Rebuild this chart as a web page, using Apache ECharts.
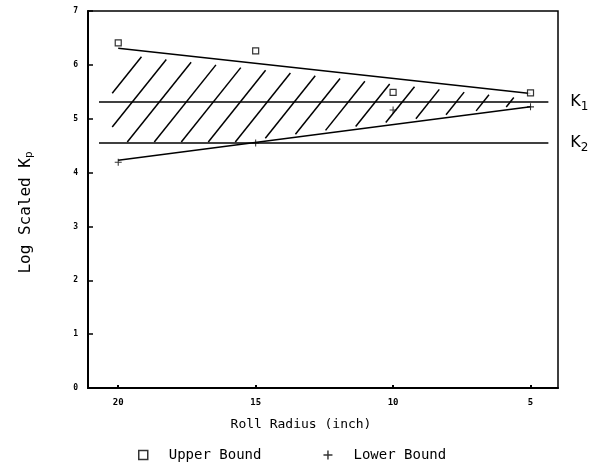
<!DOCTYPE html>
<html>
<head>
<meta charset="utf-8">
<script src="https://cdn.jsdelivr.net/npm/echarts@6/dist/echarts.min.js"></script>
<style>
  html, body { margin: 0; padding: 0; background: #fff; }
  #chart { width: 595px; height: 462px; }
</style>
</head>
<body>
<div id="chart"></div>
<script>
// roll radius (inch) and measured bounds of log scaled Kp
var radius = [20, 15, 10, 5];
var upperBound = [6.41, 6.26, 5.49, 5.48];
var lowerBound = [4.19, 4.55, 5.16, 5.22];

// fitted bound lines, drawn between the outer radii
var fitRadius = [20, 5];
var upperFit = [6.31, 5.47];
var lowerFit = [4.23, 5.22];

// reference levels K1, K2
var kRadius = [20.7, 4.35];
var k1 = 5.31;
var k2 = 4.55;

var xTicks = [5, 10, 15, 20];

var chart = echarts.init(document.getElementById("chart"));

function pairs(xs, ys) {
  return xs.map(function (x, i) { return [x, ys[i]]; });
}

// hatching between upper fit and the higher of lower fit / K2
function renderHatch(params, api) {
  var u0 = api.coord([fitRadius[0], upperFit[0]]);
  var u1 = api.coord([fitRadius[1], upperFit[1]]);
  var l0 = api.coord([fitRadius[0], lowerFit[0]]);
  var l1 = api.coord([fitRadius[1], lowerFit[1]]);
  var yK1 = api.coord([10, k1])[1];
  var yK2 = api.coord([10, k2])[1];
  var gap = 3;

  function lineY(a, b, x) { return a[1] + (x - a[0]) * (b[1] - a[1]) / (b[0] - a[0]); }
  // each constraint: g(p) >= 0, linear in p
  var cons = [
    function (p) { return p[1] - lineY(u0, u1, p[0]) - gap - 3; },
    function (p) { return lineY(l0, l1, p[0]) - p[1] - gap; },
    function (p) { return yK2 - p[1] - 1; },
    function (p) { return p[0] - u0[0] + 6; },
    function (p) { return u1[0] - p[0] - 4; }
  ];

  var dir = [0.8, -1];
  var children = [];
  for (var xk = u0[0] - 40; xk < u1[0] + 60; xk += 27) {
    var p0 = [xk, yK1];
    var tMin = -1000, tMax = 1000;
    for (var c = 0; c < cons.length; c++) {
      var g0 = cons[c](p0);
      var g1 = cons[c]([p0[0] + dir[0], p0[1] + dir[1]]) - g0;
      if (Math.abs(g1) < 1e-9) {
        if (g0 < 0) { tMin = 1; tMax = 0; }
      } else if (g1 > 0) {
        tMin = Math.max(tMin, -g0 / g1);
      } else {
        tMax = Math.min(tMax, -g0 / g1);
      }
    }
    if (tMax - tMin > 6) {
      children.push({
        type: "line",
        shape: {
          x1: p0[0] + dir[0] * tMin, y1: p0[1] + dir[1] * tMin,
          x2: p0[0] + dir[0] * tMax, y2: p0[1] + dir[1] * tMax
        },
        style: { stroke: "#000", lineWidth: 1.5 }
      });
    }
  }
  return { type: "group", children: children };
}

function kLabel(sub) {
  return {
    show: true,
    distance: 14,
    offset: [54, 0],
    formatter: "{k|K}{s|" + sub + "}",
    rich: {
      k: { fontSize: 16, color: "#000", fontFamily: "DejaVu Sans" },
      s: { fontSize: 12, color: "#000", fontFamily: "DejaVu Sans", verticalAlign: "bottom", padding: [10, 0, 0, 0] }
    }
  };
}

var option = {
  animation: false,
  backgroundColor: "#fff",
  textStyle: { fontFamily: "DejaVu Sans Mono", color: "#000" },
  grid: {
    left: 88, right: 37, top: 11, bottom: 74,
    show: true, borderColor: "#000", borderWidth: 1.5, backgroundColor: "transparent"
  },
  legend: {
    left: 133, top: 443,
    itemGap: 62,
    itemWidth: 9, itemHeight: 9,
    textStyle: { fontSize: 14, color: "#000", fontFamily: "DejaVu Sans Mono", padding: [0, 0, 0, 16] },
    data: [
      { name: "Upper Bound", icon: "rect", itemStyle: { color: "#fff", borderColor: "#000", borderWidth: 1.5 } },
      { name: "Lower Bound", icon: "path://M0,4.2H10V5.8H0Z M4.2,0H5.8V10H4.2Z" }
    ]
  },
  xAxis: {
    type: "value",
    inverse: true,
    min: 4.0, max: 21.1,
    name: "Roll Radius (inch)",
    nameLocation: "middle",
    nameGap: 30,
    nameTextStyle: { fontSize: 13, color: "#000", fontFamily: "DejaVu Sans Mono", padding: [0, 44, 0, 0] },
    axisLine: { lineStyle: { color: "#000", width: 2 } },
    axisTick: { inside: true, length: 3, customValues: xTicks, lineStyle: { color: "#000", width: 2 } },
    axisLabel: { customValues: xTicks, fontSize: 9, fontWeight: "bold", color: "#000", margin: 10 },
    splitLine: { show: false }
  },
  yAxis: {
    type: "value",
    min: 0, max: 7, interval: 1,
    name: "{t|Log Scaled K}{s|p}",
    nameLocation: "middle",
    nameGap: 53,
    nameRotate: 90,
    nameTextStyle: {
      padding: [0, 0, 0, -26],
      rich: {
        t: { fontSize: 16, color: "#000", fontFamily: "DejaVu Sans Mono" },
        s: { fontSize: 11, color: "#000", fontFamily: "DejaVu Sans Mono", verticalAlign: "bottom", padding: [8, 0, 0, 0] }
      }
    },
    axisLine: { lineStyle: { color: "#000", width: 2 } },
    axisTick: { inside: true, length: 5, lineStyle: { color: "#000", width: 1.5 } },
    axisLabel: { fontSize: 8, fontWeight: "bold", color: "#000", margin: 10 },
    splitLine: { show: false }
  },
  series: [
    {
      name: "hatch",
      type: "custom",
      data: [[10, 5]],
      renderItem: renderHatch,
      silent: true,
      z: 1
    },
    {
      name: "Upper Fit",
      type: "line",
      data: pairs(fitRadius, upperFit),
      symbol: "none",
      lineStyle: { color: "#000", width: 1.5 },
      z: 2
    },
    {
      name: "Lower Fit",
      type: "line",
      data: pairs(fitRadius, lowerFit),
      symbol: "none",
      lineStyle: { color: "#000", width: 1.5 },
      z: 2
    },
    {
      name: "K1",
      type: "line",
      data: [[kRadius[0], k1], [kRadius[1], k1]],
      symbol: "none",
      lineStyle: { color: "#000", width: 1.5 },
      endLabel: kLabel("1"),
      z: 2
    },
    {
      name: "K2",
      type: "line",
      data: [[kRadius[0], k2], [kRadius[1], k2]],
      symbol: "none",
      lineStyle: { color: "#000", width: 1.5 },
      endLabel: kLabel("2"),
      z: 2
    },
    {
      name: "Upper Bound",
      type: "scatter",
      data: pairs(radius, upperBound),
      symbol: "rect",
      symbolSize: 6,
      itemStyle: { color: "#fff", borderColor: "#000", borderWidth: 1.2 },
      z: 3
    },
    {
      name: "Lower Bound",
      type: "scatter",
      data: pairs(radius, lowerBound),
      symbol: "path://M0,3.4H8V4.6H0Z M3.4,0H4.6V8H3.4Z",
      symbolSize: 7,
      itemStyle: { color: "#000" },
      z: 3
    }
  ]
};

chart.setOption(option);
</script>
</body>
</html>
